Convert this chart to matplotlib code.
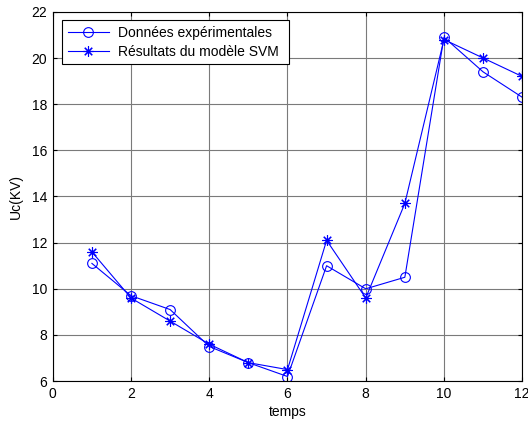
import matplotlib
matplotlib.use("Agg")
import matplotlib.pyplot as plt

plt.rcParams['font.family'] = ['Liberation Sans', 'DejaVu Sans']

temps = [1, 2, 3, 4, 5, 6, 7, 8, 9, 10, 11, 12]
experimental = [11.1, 9.7, 9.1, 7.5, 6.8, 6.2, 11.0, 10.0, 10.5, 20.9, 19.4, 18.3]
svm = [11.6, 9.6, 8.6, 7.6, 6.8, 6.5, 12.1, 9.6, 13.7, 20.8, 20.0, 19.2]
xticks = [0, 2, 4, 6, 8, 10, 12]
yticks = [6, 8, 10, 12, 14, 16, 18, 20, 22]

fig = plt.figure(figsize=(5.28, 4.23), dpi=100)
ax = fig.add_axes([0.1, 0.099, 0.889, 0.873])

ax.plot(temps, experimental, color='blue', lw=0.8, marker='o', ms=7,
        mfc='none', mec='blue', mew=0.8, label='Données expérimentales')
ax.plot(temps, svm, color='blue', lw=0.8, marker=(8, 2, 0), ms=7.5,
        mfc='none', mec='blue', mew=0.8, label='Résultats du modèle SVM')

ax.set_xlim(0, 12)
ax.set_ylim(6, 22)
ax.set_xticks(xticks)
ax.set_yticks(yticks)
ax.grid(True, color='#7a7a7a', lw=0.8, ls='-')
ax.tick_params(direction='in', top=True, right=True, labelsize=10, length=3, pad=4)
for s in ax.spines.values():
    s.set_linewidth(0.8)
ax.set_xlabel('temps', fontsize=10, labelpad=3)
ax.set_ylabel('Uc(KV)', fontsize=10, labelpad=6)

leg = ax.legend(loc='upper left', fontsize=10, fancybox=False, edgecolor='black',
                framealpha=1, bbox_to_anchor=(0.0196, 0.0, 0.484, 0.9775),
                mode='expand', borderaxespad=0,
                handlelength=3.0, handletextpad=0.6,
                borderpad=0.4, labelspacing=0.35)
leg.get_frame().set_linewidth(0.8)

fig.savefig('out.png', dpi=100)
